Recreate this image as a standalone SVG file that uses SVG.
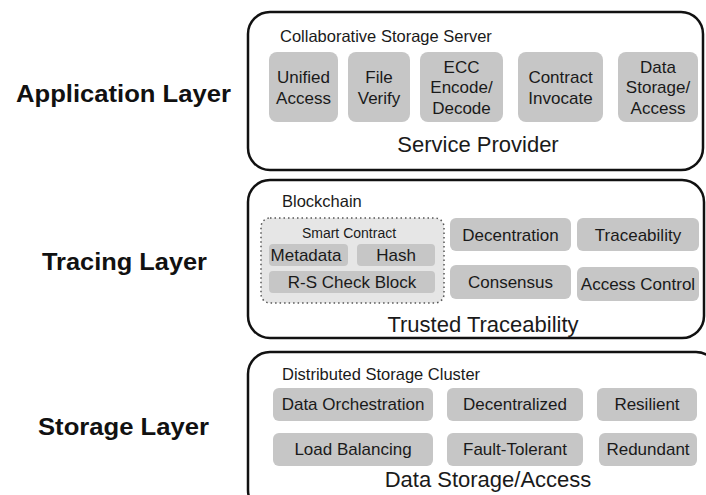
<svg xmlns="http://www.w3.org/2000/svg" width="706" height="495" viewBox="0 0 706 495">
<style>
text{font-family:"Liberation Sans",Arial,sans-serif;fill:#1a1a1a}
.layer{font-size:24px;font-weight:bold;fill:#111}
.outer{fill:#fff;stroke:#111;stroke-width:2.5}
.box{fill:#c6c6c6}
.t{font-size:17px;text-anchor:middle}
.h{font-size:16.5px}
.big{font-size:22px;text-anchor:middle}
.dot{fill:#e6e6e6;stroke:#555;stroke-width:1.5;stroke-dasharray:1.5 3}
</style>
<rect width="706" height="495" fill="#fff"/>
<g id="labels">
<text class="layer" x="16" y="102" textLength="215" lengthAdjust="spacingAndGlyphs">Application Layer</text>
<text class="layer" x="42" y="270" textLength="165" lengthAdjust="spacingAndGlyphs">Tracing Layer</text>
<text class="layer" x="38" y="435" textLength="171" lengthAdjust="spacingAndGlyphs">Storage Layer</text>
</g>
<g id="application">
<rect class="outer" x="248" y="12" width="455" height="158" rx="22"/>
<text class="h" x="280" y="42">Collaborative Storage Server</text>
<g id="unified"><rect class="box" x="269" y="52" width="69" height="70" rx="8"/><text class="t" x="303.5" y="83">Unified</text><text class="t" x="303.5" y="104">Access</text></g>
<g id="fileverify"><rect class="box" x="348" y="52" width="62" height="70" rx="8"/><text class="t" x="379" y="83">File</text><text class="t" x="379" y="104">Verify</text></g>
<g id="ecc"><rect class="box" x="420" y="52" width="83" height="70" rx="8"/><text class="t" x="461.5" y="73">ECC</text><text class="t" x="461.5" y="93">Encode/</text><text class="t" x="461.5" y="114">Decode</text></g>
<g id="contract"><rect class="box" x="518" y="52" width="85" height="70" rx="8"/><text class="t" x="560.5" y="83">Contract</text><text class="t" x="560.5" y="104">Invocate</text></g>
<g id="datastorage"><rect class="box" x="618" y="52" width="80" height="70" rx="8"/><text class="t" x="658" y="73">Data</text><text class="t" x="658" y="93">Storage/</text><text class="t" x="658" y="114">Access</text></g>
<text class="big" x="478" y="152">Service Provider</text>
</g>
<g id="tracing">
<rect class="outer" x="248" y="180" width="456" height="158" rx="22"/>
<text class="h" x="282" y="207">Blockchain</text>
<g id="smartcontract">
<rect class="dot" x="261" y="218" width="183" height="85" rx="9"/>
<text x="349" y="238" style="font-size:14px;text-anchor:middle">Smart Contract</text>
<g id="metadata"><rect class="box" x="269" y="244" width="79" height="22" rx="4"/><text class="t" x="306" y="261">Metadata</text></g>
<g id="hash"><rect class="box" x="357" y="244" width="78" height="22" rx="4"/><text class="t" x="396" y="261">Hash</text></g>
<g id="rscheck"><rect class="box" x="269" y="271" width="166" height="22" rx="4"/><text class="t" x="352" y="288">R-S Check Block</text></g>
</g>
<g id="decentration"><rect class="box" x="450" y="218" width="121" height="33" rx="6"/><text class="t" x="510.5" y="241">Decentration</text></g>
<g id="traceability"><rect class="box" x="577" y="218" width="122" height="33" rx="6"/><text class="t" x="638" y="241">Traceability</text></g>
<g id="consensus"><rect class="box" x="450" y="265" width="121" height="34" rx="6"/><text class="t" x="510.5" y="288">Consensus</text></g>
<g id="accesscontrol"><rect class="box" x="577" y="267" width="122" height="34" rx="6"/><text class="t" x="638" y="290">Access Control</text></g>
<text class="big" x="483" y="332">Trusted Traceability</text>
</g>
<g id="storage">
<rect class="outer" x="248" y="352" width="470" height="160" rx="22"/>
<text class="h" x="282" y="380">Distributed Storage Cluster</text>
<g id="orchestration"><rect class="box" x="273" y="388" width="160" height="33" rx="6"/><text class="t" x="353" y="410">Data Orchestration</text></g>
<g id="decentralized"><rect class="box" x="447" y="388" width="136" height="33" rx="6"/><text class="t" x="515" y="410">Decentralized</text></g>
<g id="resilient"><rect class="box" x="597" y="388" width="100" height="33" rx="6"/><text class="t" x="647" y="410">Resilient</text></g>
<g id="loadbalancing"><rect class="box" x="273" y="433" width="160" height="33" rx="6"/><text class="t" x="353" y="455">Load Balancing</text></g>
<g id="faulttolerant"><rect class="box" x="447" y="433" width="136" height="33" rx="6"/><text class="t" x="515" y="455">Fault-Tolerant</text></g>
<g id="redundant"><rect class="box" x="599" y="433" width="98" height="33" rx="6"/><text class="t" x="648" y="455">Redundant</text></g>
<text class="big" x="488" y="487">Data Storage/Access</text>
</g>
<g id="connectors"/>
</svg>
